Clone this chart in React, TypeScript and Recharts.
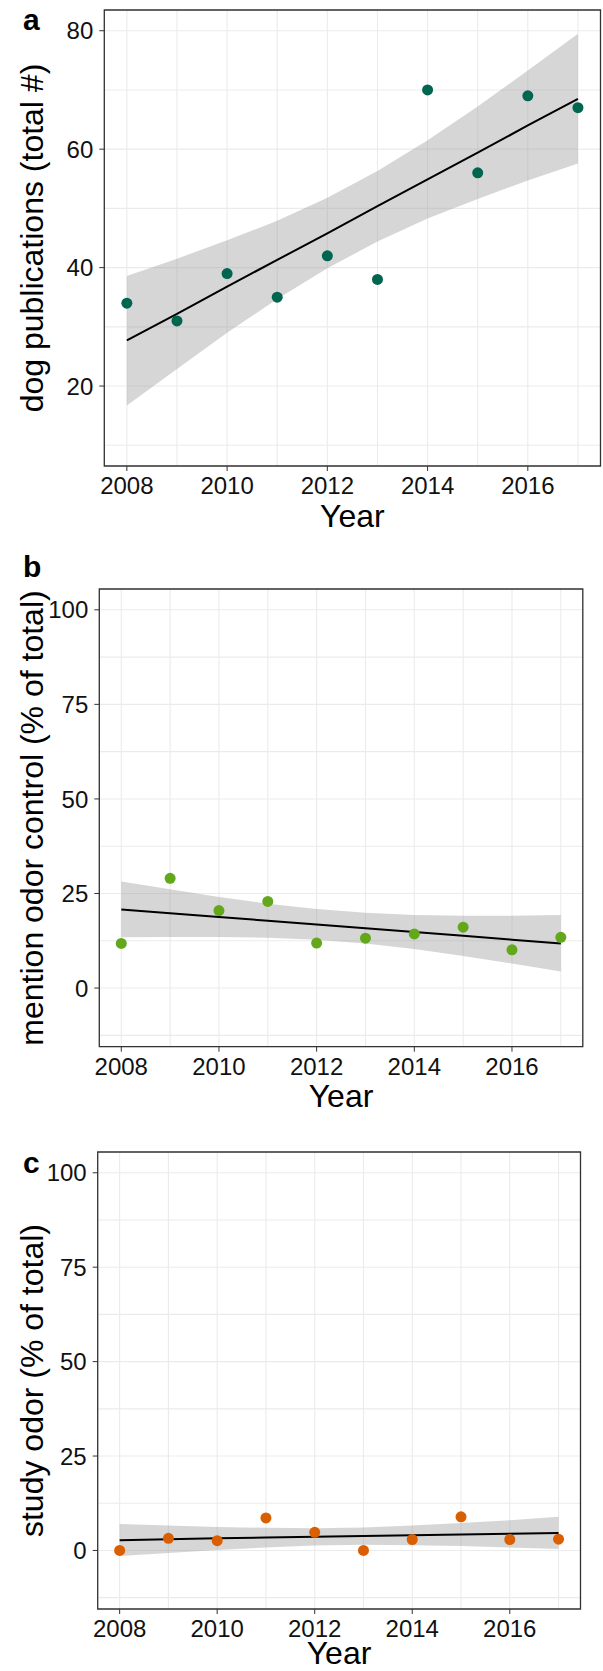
import React from "react";
import {
    ComposedChart,
    XAxis,
    YAxis,
    CartesianGrid,
    Area,
    Line,
    Scatter,
    ReferenceArea,
} from "recharts";

const years = [2008, 2009, 2010, 2011, 2012, 2013, 2014, 2015, 2016, 2017];
const xTicks = [2008, 2010, 2012, 2014, 2016];
const xGrid = [2008, 2009, 2010, 2011, 2012, 2013, 2014, 2015, 2016, 2017];

// panel a: dog publications (total #)
const dogPubs = [34, 31, 39, 35, 42, 38, 70, 56, 69, 67];
const dogFit = [27.7, 32.2, 36.8, 41.3, 45.8, 50.4, 54.9, 59.4, 64.0, 68.5];
const dogLow = [16.7, 22.9, 29.0, 34.7, 39.9, 44.4, 48.3, 51.6, 54.7, 57.6];
const dogHigh = [38.6, 41.5, 44.6, 47.9, 51.8, 56.3, 61.5, 67.2, 73.3, 79.5];
const dogTicks = [20, 40, 60, 80];
const dogGrid = [10, 20, 30, 40, 50, 60, 70, 80];

// panel b: mention odor control (% of total)
const mention = [11.8, 29.0, 20.5, 22.9, 11.9, 13.2, 14.3, 16.1, 10.1, 13.4];
const mentionFit = [20.8, 19.8, 18.8, 17.8, 16.8, 15.8, 14.8, 13.8, 12.8, 11.8];
const mentionLow = [13.4, 13.5, 13.5, 13.3, 12.8, 11.8, 10.3, 8.5, 6.5, 4.4];
const mentionHigh = [28.2, 26.1, 24.1, 22.3, 20.9, 19.9, 19.3, 19.1, 19.1, 19.3];

// panel c: study odor (% of total)
const study = [0, 3.2, 2.6, 8.6, 4.8, 0, 2.9, 8.9, 2.9, 3.0];
const studyFit = [2.7, 3.0, 3.2, 3.4, 3.6, 3.8, 4.0, 4.2, 4.4, 4.6];
const studyLow = [-1.5, -0.7, 0.1, 0.8, 1.3, 1.5, 1.4, 1.2, 0.8, 0.4];
const studyHigh = [7.0, 6.6, 6.2, 6.0, 5.9, 6.1, 6.6, 7.3, 8.0, 8.9];

const pctTicks = [0, 25, 50, 75, 100];
const pctGrid = [-12.5, 0, 12.5, 25, 37.5, 50, 62.5, 75, 87.5, 100];

const FONT = "'Liberation Sans', Arial, sans-serif";
const TICK_SIZE = 24;
const X_DOMAIN: [number, number] = [2007.55, 2017.45];

type Box = { left: number; top: number; right: number; bottom: number };

type PanelProps = {
    values: number[];
    fit: number[];
    low: number[];
    high: number[];
    color: string;
    yDomain: [number, number];
    yTicks: number[];
    yGrid: number[];
    box: Box;
};

const XTick = (p: any) => (
    <text x={p.x} y={p.y} dy="0.72em" textAnchor="middle" fill="#111"
        style={{ fontSize: TICK_SIZE, fontFamily: FONT }}>
        {p.payload.value}
    </text>
);

const YTick = (p: any) => (
    <text x={p.x} y={p.y} dy="0.36em" textAnchor="end" fill="#111"
        style={{ fontSize: TICK_SIZE, fontFamily: FONT }}>
        {p.payload.value}
    </text>
);

function Panel({ values, fit, low, high, color, yDomain, yTicks, yGrid, box }: PanelProps) {
    const data = years.map((year, i) => ({
        year,
        value: values[i],
        fit: fit[i],
        band: [low[i], high[i]],
    }));
    const height = box.bottom - box.top + 50;

    return (
        <div style={{ position: "absolute", left: 0, top: box.top - 10 }}>
            <ComposedChart
                width={603}
                height={height}
                data={data}
                margin={{ top: 10, right: 603 - box.right, bottom: 10, left: 0 }}
            >
                {/* hidden axes only feed the grid (major + minor lines) */}
                <XAxis xAxisId="grid" dataKey="year" type="number" domain={X_DOMAIN}
                    ticks={xGrid} interval={0} allowDataOverflow hide />
                <YAxis yAxisId="grid" type="number" domain={yDomain}
                    ticks={yGrid} interval={0} allowDataOverflow hide />
                <CartesianGrid xAxisId="grid" yAxisId="grid" stroke="#EBEBEB" strokeWidth={1.1} />

                <XAxis
                    dataKey="year"
                    type="number"
                    domain={X_DOMAIN}
                    ticks={xTicks}
                    interval={0}
                    allowDataOverflow
                    height={30}
                    axisLine={false}
                    tickSize={5}
                    tickMargin={6}
                    tickLine={{ stroke: "#333" }}
                    tick={<XTick />}
                />
                <YAxis
                    type="number"
                    domain={yDomain}
                    ticks={yTicks}
                    interval={0}
                    allowDataOverflow
                    width={box.left}
                    axisLine={false}
                    tickSize={5}
                    tickMargin={6}
                    tickLine={{ stroke: "#333" }}
                    tick={<YTick />}
                />
                <Area
                    type="linear"
                    dataKey="band"
                    fill="#999999"
                    fillOpacity={0.4}
                    stroke="none"
                    isAnimationActive={false}
                    activeDot={false}
                />
                <Line
                    type="linear"
                    dataKey="fit"
                    stroke="#000"
                    strokeWidth={2}
                    dot={false}
                    activeDot={false}
                    isAnimationActive={false}
                />
                <Scatter
                    dataKey="value"
                    isAnimationActive={false}
                    shape={(p: any) => <circle cx={p.cx} cy={p.cy} r={5.5} fill={color} />}
                />
                <ReferenceArea
                    x1={X_DOMAIN[0]}
                    x2={X_DOMAIN[1]}
                    y1={yDomain[0]}
                    y2={yDomain[1]}
                    fill="none"
                    stroke="#333"
                    strokeWidth={1.3}
                    ifOverflow="visible"
                />
            </ComposedChart>
        </div>
    );
}

const boxA: Box = { left: 104.3, top: 10, right: 600.5, bottom: 466 };
const boxB: Box = { left: 99.3, top: 589.3, right: 582.8, bottom: 1047 };
const boxC: Box = { left: 97.7, top: 1152, right: 580.5, bottom: 1609 };

export default function App() {
    const title = { fontSize: 32, fill: "#000", fontFamily: FONT };
    const letter = { fontSize: 30, fontWeight: 700, fill: "#000", fontFamily: FONT };
    return (
        <div style={{ position: "relative", width: 603, height: 1671, background: "#fff", overflow: "hidden" }}>
            <style>{`body{margin:0}`}</style>
            <Panel values={dogPubs} fit={dogFit} low={dogLow} high={dogHigh} color="#00664F"
                yDomain={[6.5, 83.5]} yTicks={dogTicks} yGrid={dogGrid} box={boxA} />
            <Panel values={mention} fit={mentionFit} low={mentionLow} high={mentionHigh} color="#62A81A"
                yDomain={[-15.5, 105.5]} yTicks={pctTicks} yGrid={pctGrid} box={boxB} />
            <Panel values={study} fit={studyFit} low={studyLow} high={studyHigh} color="#DA5F02"
                yDomain={[-15.5, 105.5]} yTicks={pctTicks} yGrid={pctGrid} box={boxC} />
            <svg width={603} height={1671} style={{ position: "absolute", left: 0, top: 0, pointerEvents: "none" }}>
                <text x={23} y={30} style={letter}>a</text>
                <text x={23} y={577} style={letter}>b</text>
                <text x={23} y={1173} style={letter}>c</text>
                <text x={42.5} y={238} transform="rotate(-90 42.5 238)" textAnchor="middle" style={title}>
                    dog publications (total #)
                </text>
                <text x={42.5} y={818} transform="rotate(-90 42.5 818)" textAnchor="middle" style={title}>
                    mention odor control (% of total)
                </text>
                <text x={42.5} y={1380.5} transform="rotate(-90 42.5 1380.5)" textAnchor="middle" style={title}>
                    study odor (% of total)
                </text>
                <text x={352.4} y={526.5} textAnchor="middle" style={title}>Year</text>
                <text x={341} y={1106.7} textAnchor="middle" style={title}>Year</text>
                <text x={339} y={1664} textAnchor="middle" style={title}>Year</text>
            </svg>
        </div>
    );
}
